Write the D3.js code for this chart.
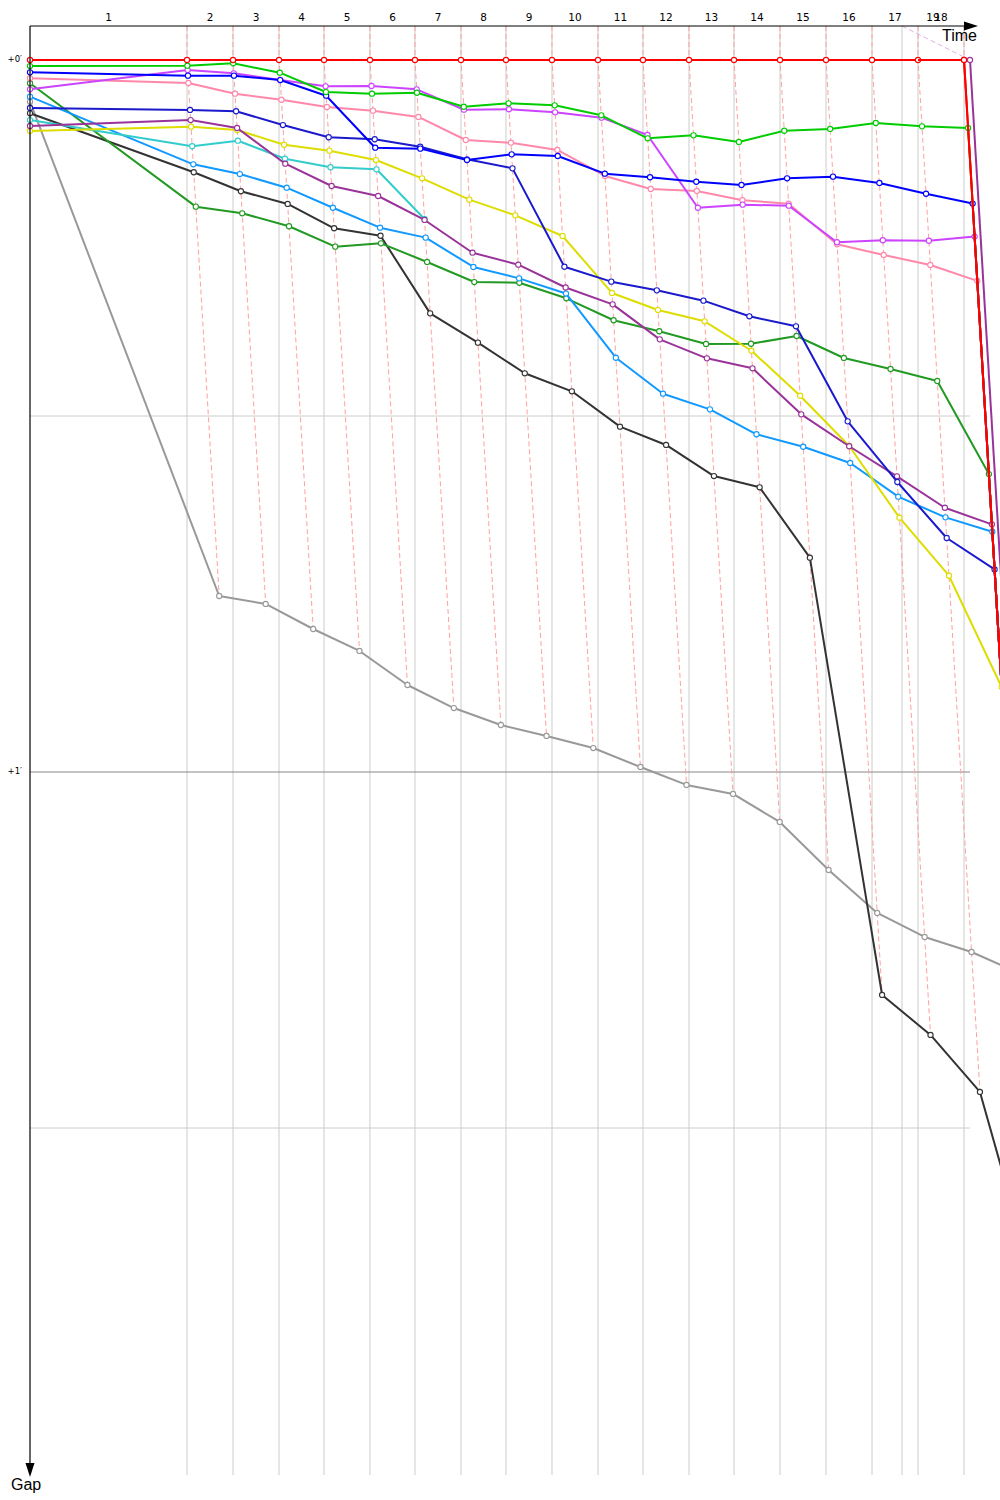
<!DOCTYPE html>
<html><head><meta charset="utf-8">
<script src="https://cdn.jsdelivr.net/npm/d3@7"></script>
<style>body{margin:0;background:#fff}svg{display:block}</style>
</head><body><svg id="c" width="1000" height="1500"></svg>
<script>
// leader time (s) at the end of each lap, lap 0 = start, last entry = final (lap 19) record
const leaderTimes = [0, 220.5, 285.1, 349.7, 412.9, 477.4, 540.6, 605.2, 668.4, 733.0, 797.6, 860.8, 925.4, 988.6, 1053.2, 1117.8, 1182.4, 1247.0, 1311.6, 1311.6];
const extraLapLine = 1224.5;
const lapLabels = ["1","2","3","4","5","6","7","8","9","10","11","12","13","14","15","16","17","18","19"];
const lapStart = [0, 220.5, 285.1, 349.7, 412.9, 477.4, 540.6, 605.2, 668.4, 733.0, 797.6, 860.8, 925.4, 988.6, 1053.2, 1117.8, 1182.4, 1247.0, 1224.5];
const lapEnd = [220.5, 285.1, 349.7, 412.9, 477.4, 540.6, 605.2, 668.4, 733.0, 797.6, 860.8, 925.4, 988.6, 1053.2, 1117.8, 1182.4, 1247.0, 1311.6, 1311.6];
const gapTicks = [0, 30, 60, 90];
const gapTickLabels = ["+0\u2032", "", "+1\u2032", ""];

// gaps to leader (s) per lap
const gapRed = [0,0,0,0,0,0,0,0,0,0,0,0,0,0,0,0,0,0,0,150];
const gapGreen = [0.51,0.48,0.28,1.07,2.70,2.84,2.76,3.94,3.65,3.82,4.66,6.60,6.35,6.91,5.96,5.81,5.31,5.59,5.73,150];
const gapBlue = [1.04,1.32,1.32,1.69,3.01,7.39,7.47,8.43,7.95,8.09,9.58,9.88,10.26,10.53,9.97,9.83,10.36,11.27,12.10,150];
const gapViolet = [2.47,0.84,1.12,1.69,2.22,2.19,2.47,4.19,4.15,4.41,4.86,6.32,12.45,12.19,12.28,15.36,15.19,15.23,14.88,150];
const gapPink = [1.54,1.94,2.84,3.35,3.96,4.27,4.80,6.74,6.97,7.58,9.77,10.87,11.04,11.82,12.11,15.53,16.43,17.27,18.61,150];
const gapNavy = [4.04,4.21,4.32,5.48,6.51,6.68,7.31,8.37,9.13,17.42,18.68,19.41,20.28,21.60,22.44,30.45,35.56,40.28,42.93,150];
const gapPurple = [5.56,5.06,5.73,8.74,10.62,11.46,13.48,16.24,17.25,19.17,20.59,23.54,25.14,25.98,29.86,32.55,35.08,37.73,39.13,150];
const gapYellow = [5.98,5.62,5.90,7.14,7.64,8.43,9.97,11.77,13.09,14.83,19.63,21.07,22.02,24.50,28.29,32.53,38.57,43.46,52.84];
const gapCyan = [5.06,7.27,6.80,8.32,9.04,9.21,13.40];
const gapSky = [3.09,8.79,9.61,10.76,12.45,14.13,14.97,17.44,18.40,19.68,25.09,28.12,29.44,31.54,32.59,33.96,36.80,38.54,39.75,150];
const gapForest = [1.96,12.36,12.92,14.01,15.73,15.45,17.02,18.71,18.77,20.08,21.93,22.86,23.93,23.91,23.26,25.11,26.04,27.05,34.89,150];
const gapBlack = [4.49,9.46,11.06,12.13,14.18,14.81,21.35,23.82,26.40,27.92,30.90,32.44,35.06,36.01,41.94,78.79,82.16,86.96,104.41];
const gapGray = [3.51,45.17,45.84,47.95,49.80,52.67,54.61,56.04,56.96,57.98,59.58,61.09,61.85,64.21,68.26,71.88,73.90,75.17,76.94];
// separate finishing record (purple)
const finishTimes = [1320.0, 1320.0];
const gapPurpleFinish = [0, 150];

const seriesList = [
  {gaps: gapGray, color: "#999999"},
  {gaps: gapBlack, color: "#333333"},
  {gaps: gapForest, color: "#229922"},
  {gaps: gapSky, color: "#1199ff"},
  {gaps: gapCyan, color: "#33cccc"},
  {gaps: gapYellow, color: "#dddd00"},
  {gaps: gapPurple, color: "#993399"},
  {gaps: gapNavy, color: "#1a1acc"},
  {gaps: gapPink, color: "#ff88aa"},
  {gaps: gapViolet, color: "#cc44ff"},
  {gaps: gapBlue, color: "#0000ff"},
  {gaps: gapGreen, color: "#00cc00"},
  {gaps: gapRed, color: "#ff0000"}
];

const svg = d3.select("#c");
const x = d3.scaleLinear().domain([0, 1320]).range([30, 970]);
const y = d3.scaleLinear().domain([0, 120]).range([60, 1484]);
const topY = 26, botY = 1475;

const pts = s => s.gaps.map((g, i) => [x(leaderTimes[i] + (i === 0 ? 0 : g)), y(g)]);

// gray lap lines
const lapLineTimes = leaderTimes.slice(1, 19).concat([extraLapLine]);
svg.append("g").selectAll("line").data(lapLineTimes).join("line")
  .attr("x1", d => x(d)).attr("x2", d => x(d))
  .attr("y1", topY).attr("y2", botY)
  .attr("stroke", "#cccccc").attr("stroke-width", 1);

// horizontal gap grid
svg.append("g").selectAll("line").data(gapTicks).join("line")
  .attr("x1", x(0)).attr("x2", x(1320))
  .attr("y1", d => y(d)).attr("y2", d => y(d))
  .attr("stroke", d => d % 60 === 0 ? "#888888" : "#cccccc").attr("stroke-width", 1);

// red dashed lap lines (time + gap)
const lapIdx = d3.range(1, 19);
const maxGap = i => d3.max(seriesList, s => s.gaps.length > i ? s.gaps[i] : 0);
const line = d3.line();
svg.append("g").selectAll("path").data(lapIdx).join("path")
  .attr("d", i => line([[x(leaderTimes[i]), topY], [x(leaderTimes[i]), y(0)], [x(leaderTimes[i] + maxGap(i)), y(maxGap(i))]]))
  .attr("fill", "none").attr("stroke", "#ffa0a0").attr("stroke-width", 1).attr("stroke-dasharray", "5,3");

// purple faint dashed
svg.append("path")
  .attr("d", line([[x(extraLapLine), topY], [x(finishTimes[0]), y(0)]]))
  .attr("fill", "none").attr("stroke", "#e0b0e0").attr("stroke-width", 1).attr("stroke-dasharray", "5,3");

// series
const gS = svg.append("g");
seriesList.forEach(s => {
  const p = pts(s);
  gS.append("path").attr("d", line(p)).attr("fill", "none")
    .attr("stroke", s.color).attr("stroke-width", 2).attr("stroke-linejoin", "round");
  gS.append("g").selectAll("circle").data(p).join("circle")
    .attr("cx", d => d[0]).attr("cy", d => d[1]).attr("r", 2.6)
    .attr("fill", "#fff").attr("stroke", s.color).attr("stroke-width", 1.1);
});
// purple finishing record
const pf = gapPurpleFinish.map((g, i) => [x(finishTimes[i] + g), y(g)]);
gS.append("path").attr("d", line(pf)).attr("fill", "none").attr("stroke", "#993399").attr("stroke-width", 2);
gS.append("circle").attr("cx", pf[0][0]).attr("cy", pf[0][1]).attr("r", 2.6)
  .attr("fill", "#fff").attr("stroke", "#993399").attr("stroke-width", 1.1);
// red final lap over purple
gS.append("path").attr("d", line(pts(seriesList[12]).slice(17))).attr("fill", "none").attr("stroke", "#ff0000").attr("stroke-width", 2);
gS.append("circle").attr("cx", pts(seriesList[12])[18][0]).attr("cy", y(0)).attr("r", 2.6)
  .attr("fill", "#fff").attr("stroke", "#ff0000").attr("stroke-width", 1.1);

// axes
const ax = svg.append("g");
ax.append("line").attr("x1", 30).attr("x2", 968).attr("y1", topY).attr("y2", topY).attr("stroke", "#000").attr("stroke-width", 1.2);
ax.append("path").attr("d", "M978,26 L964,21.5 L964,30.5 Z").attr("fill", "#000");
ax.append("line").attr("x1", 30).attr("x2", 30).attr("y1", topY).attr("y2", 1466).attr("stroke", "#000").attr("stroke-width", 1.2);
ax.append("path").attr("d", "M30,1477 L25.5,1463 L34.5,1463 Z").attr("fill", "#000");

ax.append("text").attr("x", 977).attr("y", 41).attr("text-anchor", "end")
  .attr("font-family", "Liberation Sans, Arial, sans-serif").attr("font-size", 16).text("Time");
ax.append("text").attr("x", 11).attr("y", 1490)
  .attr("font-family", "Liberation Sans, Arial, sans-serif").attr("font-size", 16).text("Gap");

ax.append("g").selectAll("text").data(lapLabels).join("text")
  .attr("x", (d, i) => x((lapStart[i] + lapEnd[i]) / 2)).attr("y", 21)
  .attr("text-anchor", "middle").attr("font-family", "DejaVu Sans, sans-serif").attr("font-size", 10.5)
  .text(d => d);

ax.append("g").selectAll("text").data(gapTicks).join("text")
  .attr("x", 22).attr("y", d => y(d) + 2).attr("text-anchor", "end")
  .attr("font-family", "DejaVu Sans, sans-serif").attr("font-size", 8.5)
  .text((d, i) => gapTickLabels[i]);
</script>
</body></html>
